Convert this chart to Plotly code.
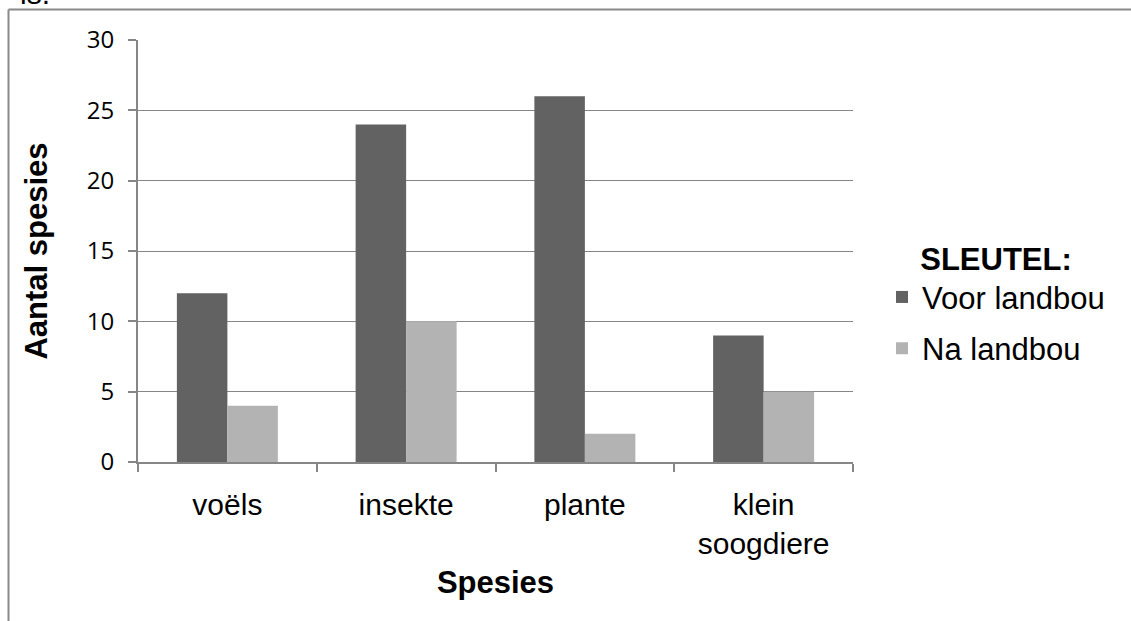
import plotly.graph_objects as go

categories = ["voëls", "insekte", "plante", "klein<br>soogdiere"]
voor_landbou = [12, 24, 26, 9]
na_landbou = [4, 10, 2, 5]
y_ticks = [0, 5, 10, 15, 20, 25, 30]

W, H = 1131, 621
L, R, T, B = 138, 853, 40, 462

def px(x):
    return (x - L) / (R - L)

def py(y):
    return (B - y) / (B - T)

FONT = "Liberation Sans, Arial"

fig = go.Figure()
fig.add_trace(go.Bar(x=categories, y=voor_landbou, name="Voor landbou",
                     marker=dict(color="#626262", line=dict(width=0)),
                     legendgroup="a"))
fig.add_trace(go.Bar(x=categories, y=na_landbou, name="Na landbou",
                     marker=dict(color="#b3b3b3", line=dict(width=0)),
                     legendgroup="b"))

fig.update_layout(
    width=W, height=H,
    margin=dict(l=L, r=W - R, t=T, b=H - B, autoexpand=False),
    paper_bgcolor="white", plot_bgcolor="white",
    barmode="group", bargap=0.435, bargroupgap=0,
    font=dict(family=FONT, color="black"),
    legend=dict(
        x=px(882), y=py(230), xanchor="left", yanchor="top",
        title=dict(text="<b>SLEUTEL:</b>", side="top center",
                   font=dict(size=31, family=FONT)),
        font=dict(size=31, family=FONT),
        tracegroupgap=8, itemwidth=30,
        bgcolor="rgba(0,0,0,0)",
    ),
    showlegend=True,
)

fig.update_xaxes(
    showline=True, linecolor="#868686", linewidth=2,
    ticks="outside", tickson="boundaries", ticklen=8, tickcolor="#868686", tickwidth=2,
    tickfont=dict(size=30, family=FONT),
    ticklabelstandoff=15,
    title=dict(text="<b>Spesies</b>", font=dict(size=31, family=FONT), standoff=12),
    showgrid=False,
)
fig.update_yaxes(
    range=[0, 30], tickvals=y_ticks,
    showline=True, linecolor="#868686", linewidth=2,
    ticks="outside", ticklen=8, tickcolor="#868686", tickwidth=2,
    showgrid=True, gridcolor="#868686", gridwidth=1,
    zeroline=False,
    tickfont=dict(size=24, family="Open Sans, Liberation Sans"),
    ticklabelstandoff=9,
    title=dict(text="<b>Aantal spesies</b>", font=dict(size=31, family=FONT), standoff=30),
)

fig.add_shape(type="line", xref="paper", yref="paper",
              x0=px(8.5), x1=px(1135), y0=py(9.5), y1=py(9.5),
              line=dict(color="#8a8a8a", width=2))
fig.add_shape(type="line", xref="paper", yref="paper",
              x0=px(8.5), x1=px(8.5), y0=py(9.5), y1=py(630),
              line=dict(color="#8a8a8a", width=2))
fig.add_annotation(text="is.", xref="paper", yref="paper",
                   x=px(18), y=py(12), xanchor="left", yanchor="bottom",
                   showarrow=False, font=dict(size=30, family=FONT))

fig.write_html("out.html", config={"displayModeBar": False},
               post_script="document.body.style.margin='0';document.body.style.overflow='hidden';")
